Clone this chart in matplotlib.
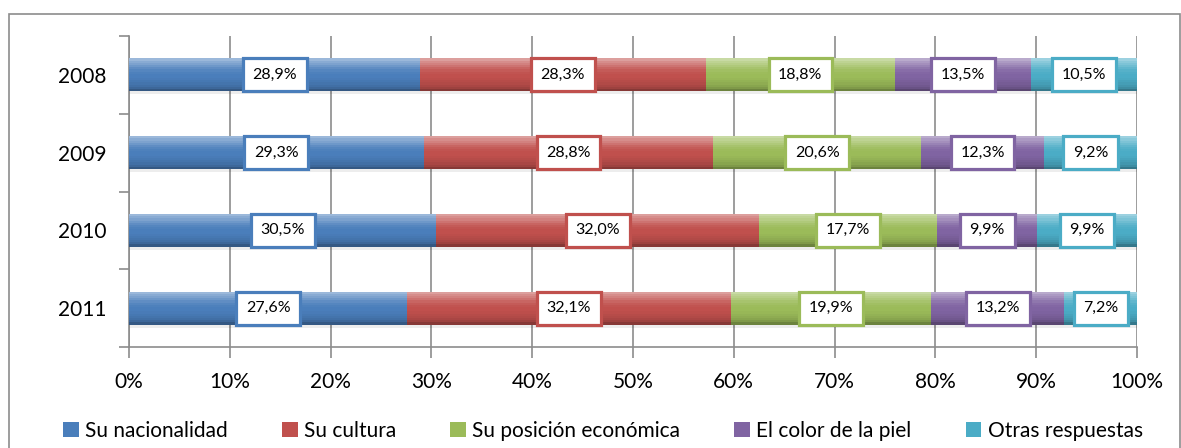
import numpy as np
import matplotlib.pyplot as plt
from matplotlib.patches import Rectangle
from matplotlib.colors import to_rgb

plt.rcParams['font.family'] = ['Lato', 'DejaVu Sans']

years = ['2008', '2009', '2010', '2011']
series = ['Su nacionalidad', 'Su cultura', 'Su posición económica',
          'El color de la piel', 'Otras respuestas']
nacionalidad = [28.9, 29.3, 30.5, 27.6]
cultura = [28.3, 28.8, 32.0, 32.1]
posicion = [18.8, 20.6, 17.7, 19.9]
color_piel = [13.5, 12.3, 9.9, 13.2]
otras = [10.5, 9.2, 9.9, 7.2]
colors = ['#4a7ebb', '#c0504d', '#9bbb59', '#8064a2', '#4bacc6']

data = np.array([nacionalidad, cultura, posicion, color_piel, otras])
shares = data / data.sum(axis=0) * 100  # 100% stacked


def shade(c, f):
    r = np.array(to_rgb(c))
    if f > 0:
        return tuple(r + (1 - r) * f)
    return tuple(r * (1 + f))


# bevel profile: lightness from top to bottom of a bar
profile = [0.45, 0.35, 0.28, 0.2, 0.12, 0.06, 0.02, 0.0, 0.0, -0.02,
           -0.05, -0.08, -0.12, -0.18, -0.3]

fig = plt.figure(figsize=(11.81, 4.48), dpi=100)
ax = fig.add_axes([129 / 1181, 1 - 347 / 448, (1137 - 129) / 1181, (347 - 36) / 448])

# outer frame
fig.patches.append(Rectangle((9 / 1181, -0.1), (1180 - 9) / 1181, 1.1 - 14 / 448,
                             transform=fig.transFigure, fill=False,
                             edgecolor='#8c8c8c', linewidth=1.2))

y = np.arange(len(years))
h = 0.42
n = len(profile)
left = np.zeros(len(years))
for i, name in enumerate(series):
    c = colors[i]
    w = shares[i]
    # soft shadow
    ax.barh(y + 0.04, w, left=left, height=h, color='#000000', alpha=0.07, zorder=2)
    ax.barh(y, w, left=left, height=h, color=c, label=name, zorder=3)
    for k, f in enumerate(profile):
        off = -h / 2 + (k + 0.5) * h / n
        ax.barh(y + off, w, left=left, height=h / n * 1.05, color=shade(c, f),
                linewidth=0, zorder=3.1)
    for j in range(len(years)):
        ax.text(left[j] + w[j] / 2, y[j], f'{data[i][j]:.1f}%'.replace('.', ','),
                ha='center', va='center', fontsize=11.5, zorder=5,
                bbox=dict(boxstyle='square,pad=0.6', facecolor='white',
                          edgecolor=c, linewidth=2.3))
    left += w

ax.set_xlim(0, 100)
ax.set_ylim(3.5, -0.5)
ax.set_xticks(np.arange(0, 101, 10))
ax.set_xticklabels([f'{v}%' for v in range(0, 101, 10)], fontsize=15)
ax.set_yticks(y)
ax.set_yticklabels(years, fontsize=15)
ax.set_yticks(np.arange(-0.5, 4, 1), minor=True)
ax.tick_params(axis='y', which='major', length=0, pad=16)
ax.tick_params(axis='y', which='minor', length=7, color='#8c8c8c', width=1.2)
ax.tick_params(axis='x', length=8, color='#8c8c8c', width=1.2, pad=10)
ax.grid(axis='x', color='#8c8c8c', linewidth=1.2, zorder=0)
ax.set_axisbelow(True)
for s in ['top', 'right']:
    ax.spines[s].set_visible(False)
for s in ['left', 'bottom']:
    ax.spines[s].set_color('#8c8c8c')
    ax.spines[s].set_linewidth(1.2)

handles, labels = ax.get_legend_handles_labels()
fig.legend(handles, labels, loc='center', bbox_to_anchor=(0.5106, 1 - 431 / 448), ncol=5,
           frameon=False, fontsize=15, handlelength=0.75, handleheight=0.75,
           handletextpad=0.3, columnspacing=2.6)

fig.savefig('out.png', dpi=100)
